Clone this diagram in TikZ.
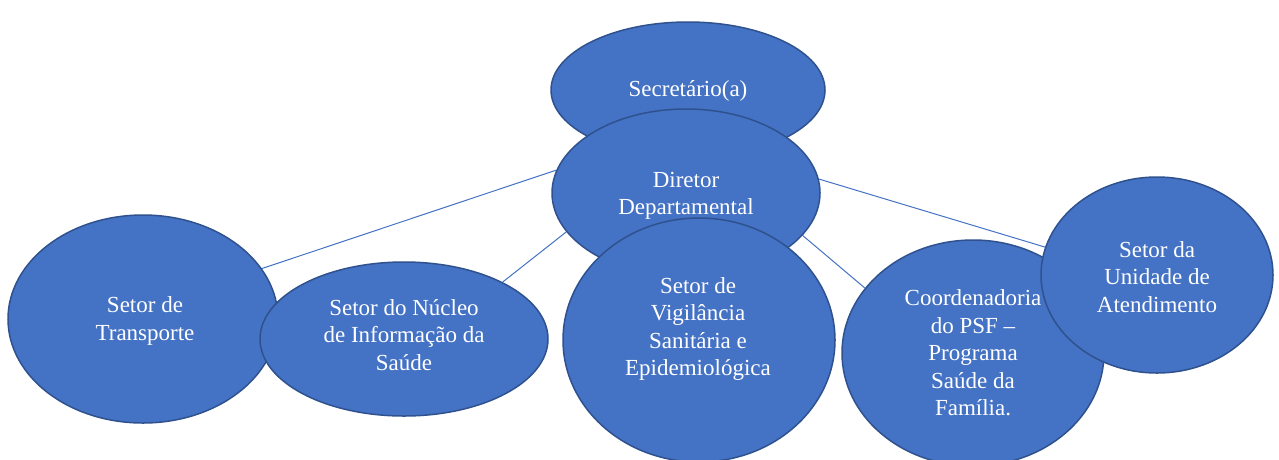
\documentclass[tikz,border=0pt]{standalone}
\usepackage{fontspec}
\setmainfont{Liberation Serif}
\usetikzlibrary{shapes.geometric,calc,backgrounds}
\definecolor{fillb}{HTML}{4472C4}
\definecolor{edgeb}{HTML}{2F528F}
\begin{document}
\begin{tikzpicture}[x=1pt,y=-1pt,
  org/.style={ellipse,draw=edgeb,fill=fillb,line width=1.5pt,inner sep=0pt},
  txt/.style={text=white,align=center,font=\fontsize{23}{27.5}\selectfont,inner sep=0pt},
  link/.style={draw=fillb,line width=1pt}]
\useasboundingbox (0,0) rectangle (1279,459);
\node[org,minimum width=270pt,minimum height=208pt] (tra) at (143,319) {};
\node[org,minimum width=288pt,minimum height=154pt] (nuc) at (404,339) {};
\node[org,minimum width=274pt,minimum height=136pt] (sec) at (688,90) {};
\node[org,minimum width=268pt,minimum height=168pt] (dir) at (686,193) {};
\node[org,minimum width=272pt,minimum height=244pt] (vig) at (699,340) {};
\node[org,minimum width=262pt,minimum height=226pt] (coo) at (973,353) {};
\node[org,minimum width=232pt,minimum height=196pt] (uni) at (1157,275) {};
\node[txt] (tsec) at (688,91) {Secretário(a)};
\node[txt] (tdir) at (686,196) {Diretor\\Departamental};
\node[txt] (ttra) at (145,321) {Setor de\\Transporte};
\node[txt] (tnuc) at (404,335) {Setor do Núcleo\\de Informação da\\Saúde};
\node[txt] (tvig) at (698,329) {Setor de\\Vigilância\\Sanitária e\\Epidemiológica};
\node[txt] (tcoo) at (973,353) {Coordenadoria\\do PSF –\\Programa\\Saúde da\\Família.};
\node[txt] (tuni) at (1157,277) {Setor da\\Unidade de\\Atendimento};
\begin{scope}[on background layer]
\draw[link] (dir.170) -- (tra.23);
\draw[link] (dir.198) -- (nuc.30);
\draw[link] (dir.340) -- (coo.149);
\draw[link] (dir.6) -- (uni.166);
\end{scope}
\end{tikzpicture}
\end{document}
